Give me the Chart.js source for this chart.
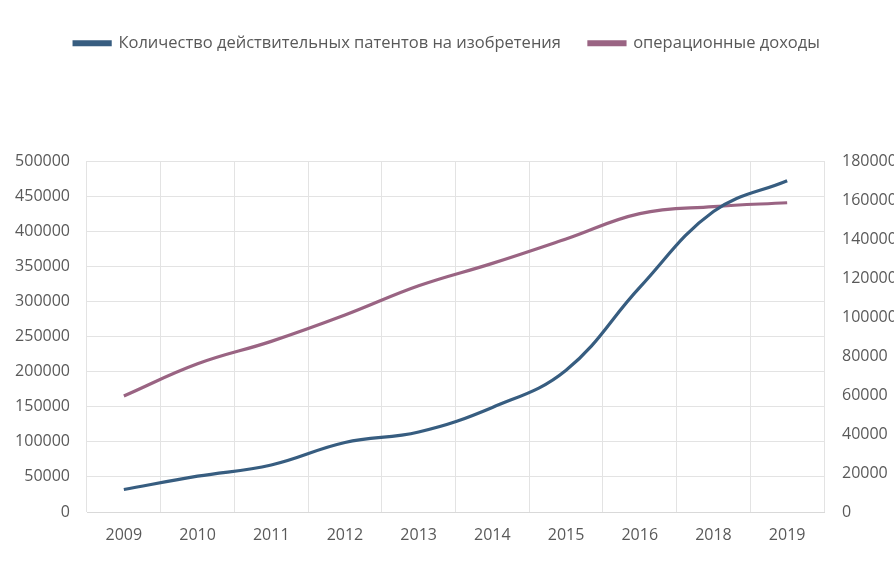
<!DOCTYPE html>
<html>
<head>
<meta charset="utf-8">
<script src="https://cdn.jsdelivr.net/npm/chart.js@4.4.1/dist/chart.umd.min.js"></script>
<style>
  html, body { margin: 0; padding: 0; background: #fff; }
  #wrap { width: 894px; height: 582px; }
</style>
</head>
<body>
<div id="wrap"><canvas id="chart" width="894" height="582"></canvas></div>
<script>
const years = ['2009', '2010', '2011', '2012', '2013', '2014', '2015', '2016', '2018', '2019'];
const patents = [32000, 51000, 67000, 99000, 114000, 149000, 202000, 320000, 428000, 472000];
const income = [59500, 76000, 87500, 101000, 116000, 127500, 140000, 153000, 156600, 158600];
const seriesNames = ['Количество действительных патентов на изобретения', 'операционные доходы'];

const textColor = '#595959';
const gridColor = '#e3e3e3';
const fontFamily = "'Open Sans', 'Noto Sans', sans-serif";

// растягиваем легенду, чтобы область графика начиналась ниже
const legendGap = {
    id: 'legendGap',
    beforeInit(chart) {
        const fit = chart.legend.fit;
        chart.legend.fit = function () {
            fit.bind(chart.legend)();
            this.height = 154;
        };
    }
};

const plainNumber = value => String(value);

const ctx = document.getElementById('chart').getContext('2d');
new Chart(ctx, {
    type: 'line',
    data: {
        labels: years,
        datasets: [
            {
                label: seriesNames[0],
                data: patents,
                borderColor: '#375d80',
                backgroundColor: '#375d80',
                borderWidth: 3.2,
                pointRadius: 0,
                tension: 0.4,
                yAxisID: 'y'
            },
            {
                label: seriesNames[1],
                data: income,
                borderColor: '#9a6483',
                backgroundColor: '#9a6483',
                borderWidth: 3.2,
                pointRadius: 0,
                tension: 0.4,
                yAxisID: 'y2'
            }
        ]
    },
    options: {
        responsive: false,
        animation: false,
        layout: { padding: { top: 7, left: 0, right: 0, bottom: 0 } },
        plugins: {
            legend: {
                position: 'top',
                labels: {
                    boxWidth: 36,
                    boxHeight: 3,
                    padding: 28,
                    color: textColor,
                    font: { family: fontFamily, size: 16.5 }
                }
            },
            tooltip: { enabled: false }
        },
        scales: {
            x: {
                offset: true,
                grid: { offset: true, color: gridColor, drawTicks: false },
                border: { color: '#d9d9d9' },
                ticks: { color: textColor, padding: 14, font: { family: fontFamily, size: 16 } },
                afterFit(scale) { scale.height = 70; }
            },
            y: {
                position: 'left',
                min: 0,
                max: 500000,
                grid: { color: gridColor, drawTicks: false },
                border: { display: false },
                ticks: { stepSize: 50000, callback: plainNumber, color: textColor, padding: 17, font: { family: fontFamily, size: 16 } },
                afterFit(scale) { scale.width = 87; }
            },
            y2: {
                position: 'right',
                min: 0,
                max: 180000,
                grid: { display: false, drawTicks: false },
                border: { display: false },
                ticks: { stepSize: 20000, callback: plainNumber, color: textColor, padding: 18, font: { family: fontFamily, size: 16 } },
                afterFit(scale) { scale.width = 70; }
            }
        }
    },
    plugins: [legendGap]
});
</script>
</body>
</html>
